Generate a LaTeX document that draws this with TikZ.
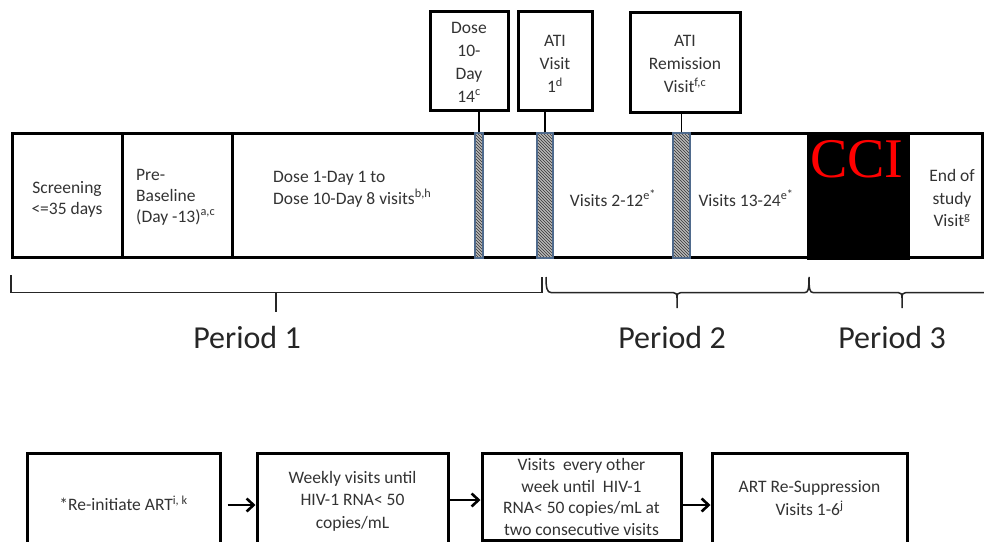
\documentclass[tikz,border=0pt]{standalone}
\usepackage{fontspec}
\setmainfont{Carlito}
\newfontfamily\ccifont{Liberation Serif}
\usetikzlibrary{patterns,arrows.meta}
\definecolor{txt}{HTML}{333333}
\definecolor{hatchborder}{HTML}{4F6A8C}
\begin{document}
\begin{tikzpicture}[x=1pt,y=-1pt,
  seg/.style={draw=black,line width=3pt,inner sep=0pt},
  topbox/.style={draw=black,line width=3pt,inner sep=0pt},
  hatchbar/.style={draw=hatchborder,line width=1.3pt,inner sep=0pt,preaction={fill=gray!55},pattern=north west lines,pattern color=black!80},
  lbl/.style={text=txt,inner sep=0pt,font=\fontsize{17.5}{21}\selectfont},
  blbl/.style={text=txt,inner sep=0pt,align=center,font=\fontsize{17.5}{22}\selectfont},
  stem/.style={draw=black,line width=1.8pt},
  brk/.style={draw=black!85,line width=1.5pt},
  per/.style={text=black!85,inner sep=0pt,font=\fontsize{32}{38}\selectfont},
  arr/.style={draw=black,line width=2.6pt,-{Straight Barb[length=7pt,width=13pt]}}
]
\useasboundingbox (0,0) rectangle (984,541);
\clip (0,0) rectangle (984,541);
\fill[white] (0,0) rectangle (984,541);

% main bar segments
\node[seg,minimum width=110pt,minimum height=124pt] (scr) at (67,195) {};
\node[seg,minimum width=110pt,minimum height=124pt] (pre) at (177,195) {};
\node[seg,minimum width=576pt,minimum height=124pt] (dosebar) at (520,195) {};
\node[seg,fill=black,minimum width=100pt,minimum height=125pt] (cci) at (858,195.5) {};
\node[seg,fill=white,minimum width=74pt,minimum height=124pt] (eos) at (945,195.5) {};

% hatched bars
\node[hatchbar,minimum width=8pt,minimum height=125pt] (hb1) at (479,195.5) {};
\node[hatchbar,minimum width=16pt,minimum height=125pt] (hb2) at (545,195.5) {};
\node[hatchbar,minimum width=17pt,minimum height=125pt] (hb3) at (681.5,195.5) {};

% bar texts
\node[lbl,align=center] (tscr) at (67,199) {Screening\\<=35 days};
\node[lbl,align=left,anchor=west] (tpre) at (136,197) {Pre-\\Baseline\\(Day -13)\textsuperscript{a,c}};
\node[lbl,align=left,anchor=west,font=\fontsize{17.5}{22}\selectfont] (tdose) at (273,189) {Dose 1-Day 1 to\\Dose 10-Day 8 visits\textsuperscript{b,h}};
\node[lbl] (tv1) at (613,198) {Visits 2-12\textsuperscript{e\raisebox{1.5pt}{*}}};
\node[lbl] (tv2) at (746,198) {Visits 13-24\textsuperscript{e\raisebox{1.5pt}{*}}};
\node[text=red,inner sep=0pt,anchor=base west,font=\ccifont\fontsize{56}{60}\selectfont] (tcci) at (810,177) {CCI};
\node[lbl,align=center,font=\fontsize{17.5}{22.5}\selectfont] (teos) at (952,198) {End of\\study\\Visit\textsuperscript{g}};

% top boxes
\node[topbox,minimum width=78pt,minimum height=99pt] (dose) at (469,60.5) {};
\node[topbox,minimum width=74pt,minimum height=99pt] (ati1) at (555,60.5) {};
\node[topbox,minimum width=110pt,minimum height=100pt] (atir) at (685,62) {};
\node[lbl,align=center,font=\fontsize{17.5}{23}\selectfont] (tdosebox) at (469,62) {Dose\\10-\\Day\\14\textsuperscript{c}};
\node[lbl,align=center,font=\fontsize{17.5}{23}\selectfont] (tati1) at (555,64) {ATI\\Visit\\1\textsuperscript{d}};
\node[lbl,align=center,font=\fontsize{17.5}{23}\selectfont] (tatir) at (685,64) {ATI\\Remission\\Visit\textsuperscript{f,c}};

% stems
\draw[stem] (hb1.north) -- (hb1.north |- dose.south);
\draw[stem] (hb2.north) -- (hb2.north |- ati1.south);
\draw[stem] (hb3.north) -- (hb3.north |- atir.south);

% period brackets
\draw[brk] (11,275) -- (11,292.5) -- (542,292.5) -- (542,277);
\draw[brk] (276,292.5) -- (276,312);
\draw[brk] (546,277) .. controls (546,288) and (547,292.5) .. (551,292.5) -- (673,292.5)
  .. controls (676,292.5) and (677,294) .. (677,298) -- (677,308);
\draw[brk] (677,298) .. controls (677,294) and (678,292.5) .. (681,292.5) -- (805,292.5)
  .. controls (808,292.5) and (809,290) .. (809,277)
  .. controls (809,290) and (810,292.5) .. (813,292.5) -- (898,292.5)
  .. controls (901,292.5) and (902,294) .. (902,298) -- (902,308);
\draw[brk] (902,298) .. controls (902,294) and (903,292.5) .. (906,292.5) -- (990,292.5);

\node[per] (p1) at (247,337) {Period 1};
\node[per] (p2) at (672,337) {Period 2};
\node[per] (p3) at (892,337) {Period 3};

% bottom flow
\node[seg,minimum width=193pt,minimum height=107pt] (b1) at (123.5,506.5) {};
\node[seg,minimum width=191pt,minimum height=107pt] (b2) at (352.5,506.5) {};
\node[seg,minimum width=199pt,minimum height=87pt] (b3) at (581.5,496.5) {};
\node[seg,minimum width=195pt,minimum height=107pt] (b4) at (809.5,506.5) {};

\node[blbl] (t1) at (123.5,503) {*Re-initiate ART\textsuperscript{i, k}};
\node[blbl,font=\fontsize{17.5}{22.5}\selectfont] (t2) at (352.5,501) {Weekly visits until\\HIV-1 RNA< 50\\copies/mL};
\node[blbl,font=\fontsize{17.5}{21.5}\selectfont] (t3) at (581.5,497) {Visits\ \ every other\\week until\ \ HIV-1\\RNA< 50 copies/mL at\\two consecutive visits};
\node[blbl,font=\fontsize{17.5}{23}\selectfont] (t4) at (809.5,498.5) {ART Re-Suppression\\Visits 1-6\textsuperscript{j}};

\draw[arr] ([xshift=6pt]b1.east |- 0,505) -- (b2.west |- 0,505);
\draw[arr] (b2.east |- 0,500) -- (b3.west |- 0,500);
\draw[arr] (b3.east |- 0,505) -- (b4.west |- 0,505);
\end{tikzpicture}
\end{document}
